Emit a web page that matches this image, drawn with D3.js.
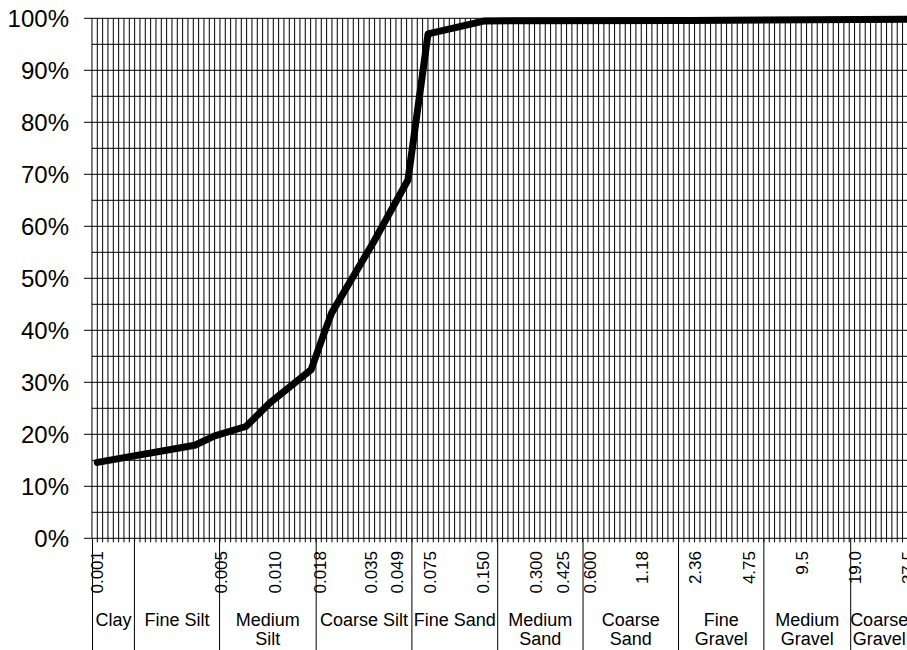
<!DOCTYPE html>
<html>
<head>
<meta charset="utf-8">
<script src="https://cdn.jsdelivr.net/npm/d3@7"></script>
<style>
  html, body { margin: 0; padding: 0; background: #fff; }
  svg { display: block; font-family: "Liberation Sans", Arial, sans-serif; }
</style>
</head>
<body>
<svg id="chart" width="907" height="650"></svg>
<script>
// ---- data ----
const sizes   = [0.001, 0.00355, 0.0046, 0.0069, 0.0094, 0.0161, 0.0185, 0.021, 0.036, 0.0567, 0.0736, 0.154, 2.2, 37.5];
const passing = [14.6, 17.9, 19.7, 21.5, 26.0, 32.4, 38.2, 43.3, 56.8, 68.9, 97.0, 99.5, 99.6, 99.8];

const tickValues = [0.001, 0.005, 0.010, 0.018, 0.035, 0.049, 0.075, 0.150, 0.300, 0.425, 0.600, 1.18, 2.36, 4.75, 9.5, 19.0, 37.5];
const tickLabels = ["0.001", "0.005", "0.010", "0.018", "0.035", "0.049", "0.075", "0.150", "0.300", "0.425", "0.600", "1.18", "2.36", "4.75", "9.5", "19.0", "37.5"];

const yTicks = [0, 10, 20, 30, 40, 50, 60, 70, 80, 90, 100];

const classNames  = [["Clay"], ["Fine Silt"], ["Medium", "Silt"], ["Coarse Silt"], ["Fine Sand"], ["Medium", "Sand"], ["Coarse", "Sand"], ["Fine", "Gravel"], ["Medium", "Gravel"], ["Coarse", "Gravel"]];
const classBounds = [0.00094, 0.00162, 0.0049, 0.0172, 0.0597, 0.182, 0.552, 1.91, 5.79, 17.9, 37.5];

// ---- layout ----
const svg = d3.select("#chart");
const x = d3.scaleLog().domain([0.001, 37.5]).range([97.3, 907.6]);
const y = d3.scaleLinear().domain([0, 100]).range([538.3, 18.3]);
const gridStep = Math.pow(2, 0.1);           // one grid line per 0.1 phi
const plotLeft = x(0.001 / gridStep);
const plotRight = 930;

// vertical grid lines (every 0.1 phi)
const vGrid = d3.range(0, 170).map(k => 0.001 * Math.pow(gridStep, k)).filter(v => x(v) <= plotRight);
svg.append("g").selectAll("line").data(vGrid).join("line")
  .attr("x1", d => x(d)).attr("x2", d => x(d))
  .attr("y1", y(100)).attr("y2", y(0) + 4)
  .attr("stroke", "#000").attr("stroke-width", 1);

// horizontal grid lines (every 5 %)
svg.append("g").selectAll("line").data(d3.range(5, 101, 5)).join("line")
  .attr("x1", d => d % 10 === 0 ? plotLeft - 8 : plotLeft).attr("x2", plotRight)
  .attr("y1", d => y(d)).attr("y2", d => y(d))
  .attr("stroke", "#000").attr("stroke-width", 1);

// axes lines
svg.append("line").attr("x1", plotLeft - 8).attr("x2", plotRight)
  .attr("y1", y(0)).attr("y2", y(0)).attr("stroke", "#000");
svg.append("line").attr("x1", plotLeft).attr("x2", plotLeft)
  .attr("y1", y(100)).attr("y2", y(0)).attr("stroke", "#000");

// y labels
svg.append("g").selectAll("text").data(yTicks).join("text")
  .attr("x", 69).attr("y", d => y(d)).attr("dy", "0.36em")
  .attr("text-anchor", "end").attr("font-size", 24).attr("fill", "#000")
  .text(d => d + "%");

// x tick labels (rotated)
svg.append("g").selectAll("text").data(tickValues).join("text")
  .attr("transform", d => `translate(${x(d)},551) rotate(-90)`)
  .attr("dy", "0.36em")
  .attr("text-anchor", "end").attr("font-size", 17).attr("fill", "#000")
  .text((d, i) => tickLabels[i]);

// class separators
svg.append("g").selectAll("line").data(classBounds.slice(0, -1)).join("line")
  .attr("x1", d => x(d)).attr("x2", d => x(d))
  .attr("y1", y(0)).attr("y2", 650)
  .attr("stroke", "#000").attr("stroke-width", 1);

// class labels
const cl = svg.append("g").selectAll("text").data(classNames).join("text")
  .attr("text-anchor", "middle").attr("font-size", 18).attr("fill", "#000")
  .attr("x", (d, i) => (x(classBounds[i]) + x(classBounds[i + 1])) / 2)
  .attr("y", 626);
cl.selectAll("tspan").data(d => d).join("tspan")
  .attr("x", function () { return d3.select(this.parentNode).attr("x"); })
  .attr("dy", (d, i) => i === 0 ? 0 : 19)
  .text(d => d);

// curve
const line = d3.line().x(d => x(d[0])).y(d => y(d[1]));
svg.append("path")
  .datum(sizes.map((s, i) => [s, passing[i]]))
  .attr("d", line)
  .attr("fill", "none").attr("stroke", "#000").attr("stroke-width", 7)
  .attr("stroke-linejoin", "round").attr("stroke-linecap", "round");
</script>
</body>
</html>
